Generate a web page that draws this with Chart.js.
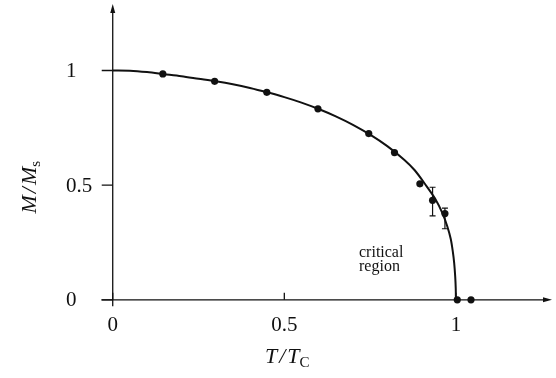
<!DOCTYPE html>
<html>
<head>
<meta charset="utf-8">
<script src="https://cdn.jsdelivr.net/npm/chart.js@4/dist/chart.umd.min.js"></script>
<style>
  body { margin: 0; background: #fff; }
  #wrap { width: 556px; height: 378px; }
</style>
</head>
<body>
<div id="wrap"><canvas id="magChart" width="556" height="378"></canvas></div>
<script>
// measured points (T/Tc, M/Ms)
const pointT = [0.146, 0.297, 0.449, 0.598, 0.746, 0.821, 0.895, 0.932, 0.968, 1.004, 1.044];
const pointM = [0.985, 0.953, 0.905, 0.833, 0.725, 0.642, 0.506, 0.434, 0.376, 0, 0];

// error bars: index into points, low, high
const errIndex = [7, 8];
const errLow = [0.366, 0.31];
const errHigh = [0.491, 0.40];

// theory curve
const curveT = [0, 0.05, 0.1, 0.15, 0.2, 0.25, 0.3, 0.35, 0.4, 0.45, 0.5, 0.55, 0.6, 0.65, 0.7, 0.75, 0.8, 0.85, 0.88, 0.91, 0.94, 0.96, 0.975, 0.985, 0.991, 0.995, 0.998, 0.9995, 1.0];
const curveM = [1, 0.999, 0.993, 0.984, 0.975, 0.964, 0.953, 0.94, 0.924, 0.905, 0.884, 0.86, 0.832, 0.8, 0.763, 0.72, 0.67, 0.61, 0.565, 0.505, 0.44, 0.38, 0.32, 0.265, 0.21, 0.16, 0.10, 0.05, 0];

const xTicks = [0, 0.5, 1];
const xTickLabels = ['0', '0.5', '1'];
const yTicks = [0, 0.5, 1];
const yTickLabels = ['0', '0.5', '1'];

const serif = '"Liberation Serif", "DejaVu Serif", serif';

const axesPlugin = {
    id: 'axesPlugin',
    afterDraw(chart) {
        const ctx = chart.ctx;
        const xs = chart.scales.x;
        const ys = chart.scales.y;
        const x0 = xs.getPixelForValue(0);
        const y0 = ys.getPixelForValue(0);
        const left = xs.getPixelForValue(-0.033);
        const right = xs.getPixelForValue(1.28);
        const top = ys.getPixelForValue(1.29);
        const bottom = ys.getPixelForValue(-0.028);

        ctx.save();
        ctx.strokeStyle = '#111';
        ctx.fillStyle = '#111';
        ctx.lineWidth = 1.3;

        // axis lines
        ctx.beginPath();
        ctx.moveTo(left, y0);
        ctx.lineTo(right - 4, y0);
        ctx.moveTo(x0, bottom);
        ctx.lineTo(x0, top + 4);
        ctx.stroke();

        // arrow heads
        ctx.beginPath();
        ctx.moveTo(right, y0);
        ctx.lineTo(right - 9, y0 - 2.5);
        ctx.lineTo(right - 9, y0 + 2.5);
        ctx.closePath();
        ctx.fill();
        ctx.beginPath();
        ctx.moveTo(x0, top);
        ctx.lineTo(x0 - 2.5, top + 9);
        ctx.lineTo(x0 + 2.5, top + 9);
        ctx.closePath();
        ctx.fill();

        // ticks
        ctx.beginPath();
        xTicks.forEach(v => {
            const px = xs.getPixelForValue(v);
            ctx.moveTo(px, y0);
            ctx.lineTo(px, y0 - 7);
        });
        yTicks.forEach(v => {
            const py = ys.getPixelForValue(v);
            ctx.moveTo(x0, py);
            ctx.lineTo(x0 - 11, py);
        });
        ctx.stroke();

        // tick labels
        ctx.font = '21px ' + serif;
        ctx.textAlign = 'center';
        ctx.textBaseline = 'middle';
        xTicks.forEach((v, i) => {
            ctx.fillText(xTickLabels[i], xs.getPixelForValue(v), y0 + 26);
        });
        ctx.textAlign = 'left';
        yTicks.forEach((v, i) => {
            ctx.fillText(yTickLabels[i], 66, ys.getPixelForValue(v) + 1);
        });

        // axis titles: italic parts with a little air round the slash, roman subscript
        const drawTitle = (a, b, sub, cx, cy, rot) => {
            ctx.save();
            ctx.translate(cx, cy);
            ctx.rotate(rot);
            const gap = 2;
            ctx.font = 'italic 22px ' + serif;
            const wa = ctx.measureText(a).width;
            const ws = ctx.measureText('/').width;
            const wb = ctx.measureText(b).width;
            ctx.font = '15px ' + serif;
            const wsub = ctx.measureText(sub).width;
            const total = wa + gap + ws + gap + wb + wsub;
            let x = -total / 2;
            ctx.textAlign = 'left';
            ctx.textBaseline = 'alphabetic';
            ctx.font = 'italic 22px ' + serif;
            ctx.fillText(a, x, 7);
            x += wa + gap;
            ctx.fillText('/', x, 7);
            x += ws + gap;
            ctx.fillText(b, x, 7);
            x += wb;
            ctx.font = '15px ' + serif;
            ctx.fillText(sub, x, 11);
            ctx.restore();
        };
        drawTitle('T', 'T', 'C', xs.getPixelForValue(0.5) + 3, 356, 0);
        drawTitle('M', 'M', 's', 29, ys.getPixelForValue(0.5) + 2, -Math.PI / 2);

        // annotation
        ctx.font = '16px ' + serif;
        ctx.textAlign = 'left';
        ctx.textBaseline = 'alphabetic';
        ctx.fillText('critical', 359, 257);
        ctx.fillText('region', 359, 271);

        // error bars
        ctx.lineWidth = 1.2;
        ctx.beginPath();
        errIndex.forEach((idx, i) => {
            const px = xs.getPixelForValue(pointT[idx]);
            const pLo = ys.getPixelForValue(errLow[i]);
            const pHi = ys.getPixelForValue(errHigh[i]);
            ctx.moveTo(px, pLo);
            ctx.lineTo(px, pHi);
            ctx.moveTo(px - 3, pLo);
            ctx.lineTo(px + 3, pLo);
            ctx.moveTo(px - 3, pHi);
            ctx.lineTo(px + 3, pHi);
        });
        ctx.stroke();
        ctx.restore();
    }
};

new Chart(document.getElementById('magChart'), {
    type: 'scatter',
    data: {
        datasets: [
            {
                label: 'theory',
                data: curveT.map((t, i) => ({ x: t, y: curveM[i] })),
                showLine: true,
                borderColor: '#111',
                borderWidth: 2,
                pointRadius: 0,
                tension: 0.3,
                fill: false
            },
            {
                label: 'data',
                data: pointT.map((t, i) => ({ x: t, y: pointM[i] })),
                showLine: false,
                backgroundColor: '#111',
                borderColor: '#111',
                pointRadius: 3.6,
                pointBorderWidth: 0
            }
        ]
    },
    plugins: [axesPlugin],
    options: {
        responsive: false,
        animation: false,
        clip: false,
        layout: { padding: { left: 99, right: 3, top: 1, bottom: 69 } },
        plugins: { legend: { display: false }, tooltip: { enabled: false } },
        scales: {
            x: { type: 'linear', min: -0.04, max: 1.28, display: false },
            y: { type: 'linear', min: -0.04, max: 1.29, display: false }
        }
    }
});
</script>
</body>
</html>
